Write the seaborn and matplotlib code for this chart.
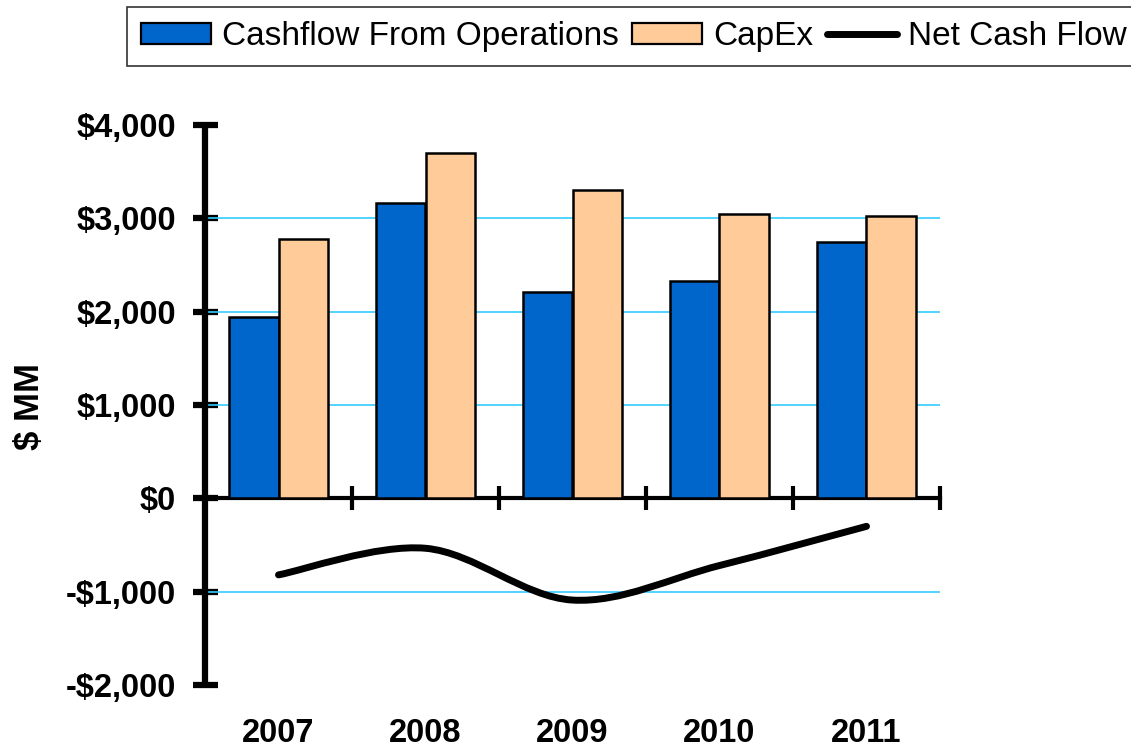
import numpy as np
import pandas as pd
import matplotlib.pyplot as plt
from matplotlib.path import Path
from matplotlib.patches import PathPatch, Patch
from matplotlib.lines import Line2D
from matplotlib.ticker import FuncFormatter
from matplotlib.transforms import blended_transform_factory
import seaborn as sns

# values ($ MM)
years = ['2007', '2008', '2009', '2010', '2011']
cfo = [1940, 3160, 2215, 2325, 2745]
capex = [2775, 3695, 3305, 3050, 3025]
net_cash = [-820, -535, -1090, -720, -300]

series_names = ['Cashflow From Operations', 'CapEx', 'Net Cash Flow']
colors = ['#0066CC', '#FFCC99', 'black']
grid_vals = [-1000, 1000, 2000, 3000]

sns.set_style('white')
plt.rcParams['font.family'] = ['Liberation Sans', 'DejaVu Sans']
plt.rcParams['font.weight'] = 'bold'
plt.rcParams['text.color'] = 'black'
plt.rcParams['axes.edgecolor'] = 'black'
plt.rcParams['xtick.color'] = 'black'
plt.rcParams['ytick.color'] = 'black'

df = pd.DataFrame({'year': years * 2,
                   'series': [series_names[0]] * len(years) + [series_names[1]] * len(years),
                   'value': cfo + capex})

fig = plt.figure(figsize=(11.31, 7.5), dpi=100)
ax = fig.add_axes([205 / 1131, 1 - 685 / 750, 735 / 1131, 560 / 750])

sns.barplot(data=df, x='year', y='value', hue='series', hue_order=series_names[:2],
            palette=colors[:2], width=0.675, edgecolor='black', linewidth=1.8,
            saturation=1, legend=False, ax=ax, zorder=3)

# cyan gridlines
ax.hlines(grid_vals, -0.5, len(years) - 0.5, color='#33CCFF', lw=1.2, zorder=1)

# smoothed net cash flow line (bezier through the yearly points)
pts = np.column_stack([np.arange(len(years)), net_cash]).astype(float)
ext = np.vstack([pts[0], pts, pts[-1]])
verts = [pts[0]]
codes = [Path.MOVETO]
for i in range(len(pts) - 1):
    p0, p1, p2, p3 = ext[i], ext[i + 1], ext[i + 2], ext[i + 3]
    verts += [p1 + (p2 - p0) / 6, p2 - (p3 - p1) / 6, p2]
    codes += [Path.CURVE4] * 3
ax.add_patch(PathPatch(Path(verts, codes), fill=False, ec='black', lw=5,
                       capstyle='round', joinstyle='round', zorder=4))

### axes styling
sns.despine(ax=ax)
ax.spines['bottom'].set_position(('data', 0))
ax.spines['bottom'].set_linewidth(3)
ax.spines['left'].set_linewidth(4.5)
ax.spines['left'].set_capstyle('round')
ax.set_xlim(-0.5, len(years) - 0.5)
ax.set_ylim(-2000, 4000)
ax.set_yticks(range(-2000, 4001, 1000))
ax.yaxis.set_major_formatter(FuncFormatter(lambda v, p: ('-$' if v < 0 else '$') + f'{abs(int(v)):,}'))
ax.tick_params(axis='y', left=True, direction='inout', length=18, width=4.5, pad=12,
               labelsize=23.5, colors='black')
ax.set_xticks(np.arange(0.5, len(years), 1))
ax.set_xticklabels([])
ax.tick_params(axis='x', bottom=True, direction='inout', length=17, width=3, colors='black')
ax.set_xlabel('')
ax.set_ylabel('')

trans = blended_transform_factory(ax.transData, fig.transFigure)
for i, y in enumerate(years):
    ax.text(i, 1 - 734 / 750, y, transform=trans, ha='center', va='center',
            fontsize=23.5, fontweight='bold', clip_on=False)

fig.text(30 / 1131, 1 - 406 / 750, '$ MM', rotation=90, ha='center', va='center',
         fontsize=25, fontweight='bold')

handles = [Patch(fc=colors[0], ec='black', lw=1.6),
           Patch(fc=colors[1], ec='black', lw=1.6),
           Line2D([], [], color=colors[2], lw=5, solid_capstyle='round')]
leg = fig.legend(handles, series_names, loc='upper left', bbox_to_anchor=(127 / 1131, 1 - 7 / 750),
                 ncol=3, prop={'size': 24, 'weight': 'normal'}, frameon=True, fancybox=False,
                 edgecolor='black', handlelength=2.1, handleheight=0.58, handletextpad=0.33,
                 columnspacing=0.4, borderpad=0.42, borderaxespad=0)
leg.get_frame().set_linewidth(1.2)

plt.savefig('out.png', dpi=100)
